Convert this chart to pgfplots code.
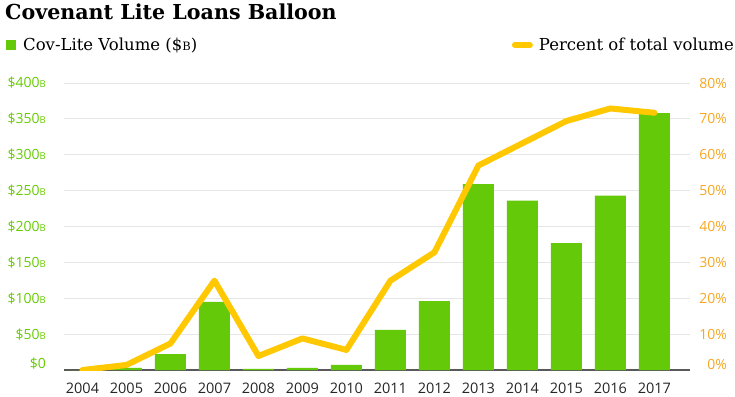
\documentclass[border=0pt]{standalone}
\usepackage{pgfplots}
\pgfplotsset{compat=1.18}
\usepackage{pgfplotstable}
\usepackage{fontspec}
\setmainfont{DejaVu Serif}
\newfontfamily\ticksfont{Open Sans}
\definecolor{barg}{RGB}{99,201,9}
\definecolor{lineY}{RGB}{255,200,0}
\definecolor{tickG}{RGB}{102,204,0}
\definecolor{tickO}{RGB}{247,166,35}
\definecolor{gridc}{RGB}{230,230,230}
\newcommand\sB{{\fontsize{9.5}{9.5}\selectfont B}}
\newcommand\lB{{\fontsize{11.5}{11.5}\selectfont B}}

\pgfplotstableread{
x vol pct
0 0 0.0
1 3 1.4
2 22 7.4
3 95 24.9
4 1.5 3.9
5 3 8.8
6 7 5.6
7 56 24.9
8 96 32.8
9 259 57.0
10 236 63.2
11 177 69.4
12 243 72.9
13 358 71.7
}\data

\begin{document}
\begin{tikzpicture}
\path[use as bounding box] (0,0) rectangle (735pt,396pt);
\node[anchor=base west, inner sep=0pt, font=\bfseries\fontsize{20.6}{20.6}\selectfont] at (5pt,376pt) {Covenant Lite Loans Balloon};
\begin{axis}[
  at={(64pt,26pt)}, anchor=south west,
  scale only axis, width=626pt, height=287pt,
  xmin=-0.42, xmax=13.81, ymin=0, ymax=400,
  axis x line*=bottom, axis y line*=left,
  y axis line style={draw=none},
  x axis line style={draw=black!65, line width=1.2pt, -},
  major tick length=0pt,
  xtick={0,...,13},
  xticklabels={2004,2005,2006,2007,2008,2009,2010,2011,2012,2013,2014,2015,2016,2017},
  xticklabel style={anchor=north, inner sep=0pt, yshift=-12.5pt, text=black!85, font=\ticksfont\fontsize{14.5}{14.5}\selectfont},
  ytick={0,50,...,400},
  yticklabels={\raisebox{6pt}[\height][\depth]{\$0},\$50\sB,\$100\sB,\$150\sB,\$200\sB,\$250\sB,\$300\sB,\$350\sB,\$400\sB},
  yticklabel style={anchor=east, inner sep=0pt, xshift=-18pt, text=tickG, font=\ticksfont\fontsize{14}{14}\selectfont},
  ymajorgrids, grid style={gridc, line width=0.8pt},
  legend style={at={(-0.0927,1.132)}, anchor=west, draw=none, fill=none, inner sep=0pt,
    column sep=5pt, font=\fontsize{16.5}{16.5}\selectfont, cells={anchor=west}},
  legend image code/.code={\fill[barg] (0pt,-5pt) rectangle (10pt,5pt);},
]
\addplot[ybar, bar width=31pt, fill=barg, draw=none] table[x=x,y=vol]{\data};
\addlegendentry{Cov-Lite Volume (\$\lB)}
\end{axis}
\begin{axis}[
  at={(64pt,26pt)}, anchor=south west,
  scale only axis, width=626pt, height=287pt,
  xmin=-0.42, xmax=13.81, ymin=0, ymax=80,
  axis x line=none, axis y line*=right,
  y axis line style={draw=none},
  major tick length=0pt,
  ytick={0,10,...,80},
  yticklabels={\raisebox{6pt}[\height][\depth]{0\%},10\%,20\%,30\%,40\%,50\%,60\%,70\%,80\%},
  yticklabel style={anchor=east, inner sep=0pt, xshift=37pt, text=tickO, font=\ticksfont\fontsize{14}{14}\selectfont},
  legend style={at={(1.0735,1.132)}, anchor=east, draw=none, fill=none, inner sep=0pt,
    column sep=4pt, font=\fontsize{16.5}{16.5}\selectfont, cells={anchor=west}},
  legend image code/.code={\draw[lineY, line width=6pt, line cap=round] (3pt,0pt) -- (18pt,0pt);},
]
\addplot[lineY, line width=6pt, line join=round, line cap=round] table[x=x,y=pct]{\data};
\addlegendentry{Percent of total volume}
\end{axis}
\end{tikzpicture}
\end{document}
